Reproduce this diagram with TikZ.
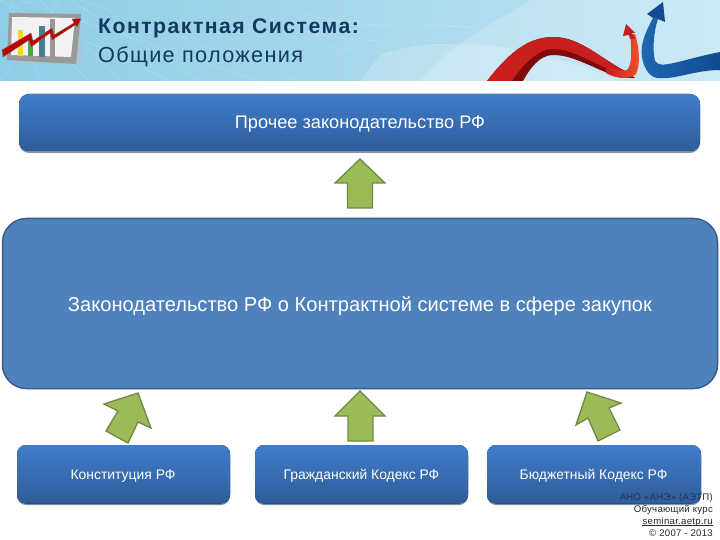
\documentclass[tikz,border=0pt]{standalone}
\usepackage{fontspec}
\setmainfont{Liberation Sans}
\usetikzlibrary{shadings}
\definecolor{hdrL}{HTML}{8FCDE6}
\definecolor{hdrR}{HTML}{BFE3F3}
\definecolor{boxT}{HTML}{3F7DCB}
\definecolor{boxB}{HTML}{2F5C98}
\definecolor{midF}{HTML}{4F81BD}
\definecolor{midE}{HTML}{385D8A}
\definecolor{arrF}{HTML}{9BBB59}
\definecolor{arrE}{HTML}{71893F}
\definecolor{ttl}{HTML}{12395F}
\definecolor{edgeB}{HTML}{7D8FAE}
\definecolor{redA}{HTML}{C81E1E}
\definecolor{redB}{HTML}{7E0A0A}
\definecolor{redC}{HTML}{F0502A}
\definecolor{bluA}{HTML}{1E67B2}
\definecolor{bluB}{HTML}{0F4C90}
\definecolor{footOver}{HTML}{1F3350}
\tikzset{
  gradbox/.style={rounded corners=#1, top color=boxT, bottom color=boxB, draw=none},
  gradbox/.default=10pt,
  boxedge/.style={rounded corners=#1, fill=edgeB},
  boxedge/.default=10pt,
  upblock/.style={fill=arrF, draw=arrE, line width=1.3pt, miter limit=6},
  lbl/.style={text=white, inner sep=0pt, anchor=base},
  foot/.style={anchor=base east, inner sep=0pt, text=black!85, font=\fontsize{9.6}{10}\selectfont\addfontfeature{LetterSpace=3}}
}
\begin{document}
\begin{tikzpicture}[x=1pt,y=-1pt]
\useasboundingbox (0,0) rectangle (720,540);
\fill[white] (0,0) rectangle (720,540);
% header
\shade[left color=hdrL, right color=hdrR] (0,0) rectangle (720,81);
\fill[white,opacity=.2] (420,81) .. controls (450,45) and (490,25) .. (530,0) -- (720,0) -- (720,81) -- cycle;
\fill[white,opacity=.2] (380,55) .. controls (430,35) and (520,40) .. (620,81) -- (360,81) -- cycle;
\foreach \a/\b in {0/60,120/40,170/0,200/70,260/20,300/81,90/0,40/10}
  \draw[white,opacity=.25,line width=.4pt] (\a,81) -- (\b,0);
\foreach \a/\b in {12/38,22/30,30/52,36/70}
  \draw[white,opacity=.22,line width=.4pt] (300,\a) .. controls (380,\b) and (430,\a) .. (520,\b);
% logo
\fill[black!25,opacity=.5] (12,62) -- (78,64) -- (82,58) -- (80,16) -- cycle;
\fill[black!40] (9,13) -- (81,14) -- (76,64) -- (7,60) -- cycle;
\fill[black!5] (12,17) -- (75,18) -- (71,57) -- (11,55) -- cycle;
\fill[yellow!65!orange!80] (18,30) rectangle (23,56);
\fill[green!50!black!70] (28,40) rectangle (33,56);
\fill[cyan!55!black] (39,26) rectangle (45,57);
\fill[black!40] (50,19) rectangle (55,58);
\fill[red!75!black,draw=black!55,line width=.4pt] (2,50) -- (31,33) -- (33,41) -- (52,28) -- (54,35) -- (74,23) -- (72,19) -- (81,19) -- (77,27) -- (75,25) -- (52,40) -- (50,33) -- (31,47) -- (29,40) -- (3,57) -- cycle;
% red ribbon arrow
\fill[redB] (487,81) .. controls (505,58) and (525,37) .. (553,37) .. controls (580,37) and (600,58) .. (625,71) -- (635,78) -- (622,78) .. controls (595,70) and (575,55) .. (553,55) .. controls (540,55) and (530,68) .. (523,81) -- cycle;
\fill[redA] (487,81) .. controls (505,58) and (525,37) .. (553,37) .. controls (580,37) and (600,58) .. (625,71) -- (622,74) .. controls (600,68) and (575,49) .. (553,49) .. controls (538,49) and (522,65) .. (512,81) -- cycle;
\shade[left color=redA, right color=redC] (606,65) .. controls (614,70) and (622,73) .. (627,70) .. controls (632,66) and (632,48) .. (630,35) -- (635,34) .. controls (640,50) and (640,66) .. (636,74) .. controls (630,80) and (616,79) .. (606,73) -- cycle;
\fill[redA] (626,24) -- (635,33) -- (632,33) -- (635,39) -- (630,39) -- (629,35) -- (623,36) -- cycle;
% blue ribbon arrow
\shade[left color=bluA, right color=bluB] (658,19) .. controls (654,30) and (652,50) .. (655,61) .. controls (660,70) and (680,60) .. (720,52) -- (720,70) .. controls (695,70) and (675,80) .. (657,78) .. controls (645,76) and (640,58) .. (642,46) .. controls (644,34) and (650,24) .. (653,18) -- cycle;
\fill[bluB] (663,2) -- (665,22) -- (658,19) -- (653,18) -- (647,14) -- cycle;
% title
\node[anchor=base west,inner sep=0pt,text=ttl,font=\fontsize{21.2}{22}\selectfont\bfseries\addfontfeature{LetterSpace=7}] (title1) at (98,34) {Контрактная Система:};
\node[anchor=base west,inner sep=0pt,text=ttl,font=\fontsize{21.7}{22}\selectfont\addfontfeature{LetterSpace=6}] (title2) at (98,63) {Общие положения};
% top box
\fill[boxedge] (19,96) rectangle (700,153);
\fill[gradbox] (19,94) rectangle (700,151);
\node[lbl,font=\fontsize{18.2}{20}\selectfont] (other) at (360,129) {Прочее законодательство РФ};
% top arrow
\draw[upblock] (360,159) -- (385,183) -- (372.5,183) -- (372.5,208) -- (347.5,208) -- (347.5,183) -- (335,183) -- cycle;
% middle box
\draw[fill=midF,draw=midE,line width=1.5pt,rounded corners=24pt] (2.5,218.5) rectangle (717.5,388.5);
\node[lbl,font=\fontsize{20.1}{22}\selectfont] (main) at (360,311) {Законодательство РФ о Контрактной системе в сфере закупок};
% lower arrows
\draw[upblock] (360,391) -- (385,416) -- (373,416) -- (373,441) -- (348,441) -- (348,416) -- (335,416) -- cycle;
\draw[upblock] (138,393) -- (151,428) -- (138,422) -- (128,443) -- (106,431) -- (118,411) -- (104,404) -- cycle;
\draw[upblock] (587,392) -- (621,403) -- (609,408) -- (620,430) -- (598,441) -- (588,418) -- (576,425) -- cycle;
% bottom boxes
\foreach \l/\r in {17/230,255/468,487/701}{
  \fill[boxedge=9pt] (\l,447) rectangle (\r,505);
  \fill[gradbox=9pt] (\l,445) rectangle (\r,503.5);
}
\node[lbl,font=\fontsize{13.9}{15}\selectfont] (constitution) at (123,479) {Конституция РФ};
\node[lbl,font=\fontsize{13.9}{15}\selectfont] (civil) at (361.5,479) {Гражданский Кодекс РФ};
\node[lbl,font=\fontsize{13.9}{15}\selectfont] (budget) at (593.5,479) {Бюджетный Кодекс РФ};
% footer
\node[foot,text=footOver] (f1) at (713,500) {АНО «АНЭ» (АЭТП)};
\node[foot] (f2) at (713,512) {Обучающий курс};
\node[foot] (f3) at (713,524.5) {seminar.aetp.ru};
\draw[black!85,line width=.6pt] ([yshift=-1pt]f3.base west) -- ([yshift=-1pt]f3.base east);
\node[foot] (f4) at (713,536) {© 2007 - 2013};
\end{tikzpicture}
\end{document}
